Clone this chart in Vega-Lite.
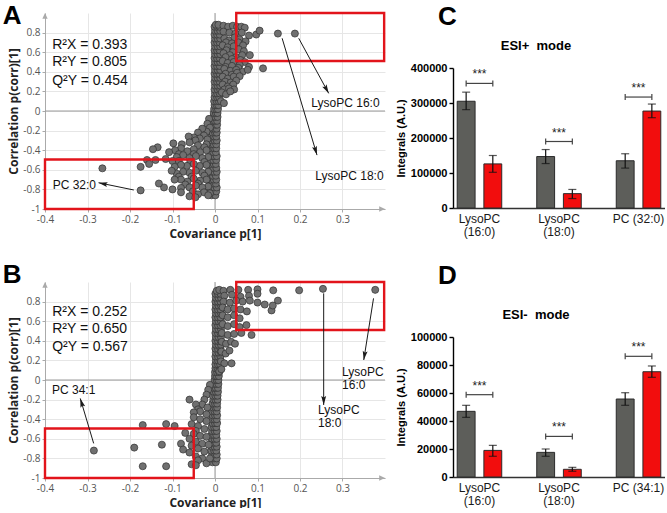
{
"$schema":"https://vega.github.io/schema/vega-lite/v6.json",
"background":"white",
"padding":{"left":2,"top":2,"right":0,"bottom":0},
"columns":2,
"spacing":{"row":22,"column":9},
"align":"each",
"config":{
 "view":{"stroke":null},
 "font":"Liberation Sans",
 "title":{"anchor":"start","fontSize":26,"fontWeight":"bold","font":"Liberation Sans","color":"#000","baseline":"alphabetic","offset":-17}
},
"datasets":{
"sA":[
{"x":-0.008,"y":-0.86},{"x":0.001,"y":-0.86},
{"x":-0.011,"y":-0.82},{"x":-0.003,"y":-0.82},{"x":0.003,"y":-0.82},
{"x":-0.009,"y":-0.78},{"x":-0.002,"y":-0.78},{"x":0.004,"y":-0.78},
{"x":-0.012,"y":-0.74},{"x":-0.004,"y":-0.74},{"x":0.002,"y":-0.74},
{"x":-0.01,"y":-0.7},{"x":-0.003,"y":-0.7},{"x":0.003,"y":-0.7},
{"x":-0.011,"y":-0.66},{"x":-0.005,"y":-0.66},{"x":0.002,"y":-0.66},
{"x":-0.009,"y":-0.62},{"x":-0.002,"y":-0.62},{"x":0.004,"y":-0.62},
{"x":-0.012,"y":-0.58},{"x":-0.004,"y":-0.58},{"x":0.003,"y":-0.58},
{"x":-0.01,"y":-0.54},{"x":-0.003,"y":-0.54},{"x":0.002,"y":-0.54},
{"x":-0.011,"y":-0.5},{"x":-0.004,"y":-0.5},{"x":0.003,"y":-0.5},
{"x":-0.009,"y":-0.46},{"x":-0.002,"y":-0.46},{"x":0.004,"y":-0.46},
{"x":-0.01,"y":-0.42},{"x":-0.004,"y":-0.42},{"x":0.002,"y":-0.42},
{"x":-0.008,"y":-0.38},{"x":-0.002,"y":-0.38},{"x":0.003,"y":-0.38},
{"x":-0.009,"y":-0.34},{"x":-0.003,"y":-0.34},{"x":0.003,"y":-0.34},
{"x":-0.007,"y":-0.3},{"x":-0.001,"y":-0.3},{"x":0.004,"y":-0.3},
{"x":-0.008,"y":-0.26},{"x":-0.002,"y":-0.26},{"x":0.003,"y":-0.26},
{"x":-0.006,"y":-0.22},{"x":0,"y":-0.22},{"x":0.004,"y":-0.22},
{"x":-0.007,"y":-0.18},{"x":-0.001,"y":-0.18},{"x":0.004,"y":-0.18},
{"x":-0.005,"y":-0.14},{"x":0.001,"y":-0.14},{"x":0.005,"y":-0.14},
{"x":-0.006,"y":-0.1},{"x":0,"y":-0.1},{"x":0.005,"y":-0.1},
{"x":-0.004,"y":-0.06},{"x":0.001,"y":-0.06},{"x":0.006,"y":-0.06},
{"x":-0.003,"y":-0.02},{"x":0.002,"y":-0.02},{"x":0.006,"y":-0.02},
{"x":-0.002,"y":0.02},{"x":0.003,"y":0.02},{"x":0.007,"y":0.02},
{"x":-0.001,"y":0.06},{"x":0.004,"y":0.06},{"x":0.008,"y":0.06},
{"x":-0.002,"y":0.1},{"x":0.004,"y":0.1},{"x":0.009,"y":0.1},
{"x":-0.001,"y":0.14},{"x":0.005,"y":0.14},{"x":0.01,"y":0.14},
{"x":0,"y":0.18},{"x":0.005,"y":0.18},{"x":0.011,"y":0.18},
{"x":-0.001,"y":0.22},{"x":0.006,"y":0.22},{"x":0.012,"y":0.22},
{"x":0,"y":0.26},{"x":0.006,"y":0.26},{"x":0.012,"y":0.26},
{"x":-0.001,"y":0.3},{"x":0.005,"y":0.3},{"x":0.011,"y":0.3},
{"x":0,"y":0.34},{"x":0.006,"y":0.34},{"x":0.012,"y":0.34},
{"x":-0.001,"y":0.38},{"x":0.005,"y":0.38},{"x":0.011,"y":0.38},
{"x":0,"y":0.42},{"x":0.006,"y":0.42},{"x":0.012,"y":0.42},
{"x":-0.001,"y":0.46},{"x":0.005,"y":0.46},{"x":0.011,"y":0.46},
{"x":0,"y":0.5},{"x":0.006,"y":0.5},{"x":0.012,"y":0.5},
{"x":-0.001,"y":0.54},{"x":0.005,"y":0.54},{"x":0.011,"y":0.54},
{"x":0,"y":0.58},{"x":0.006,"y":0.58},{"x":0.012,"y":0.58},
{"x":-0.001,"y":0.62},{"x":0.005,"y":0.62},{"x":0.011,"y":0.62},
{"x":0,"y":0.66},{"x":0.006,"y":0.66},{"x":0.012,"y":0.66},
{"x":-0.001,"y":0.7},{"x":0.005,"y":0.7},{"x":0.011,"y":0.7},
{"x":0,"y":0.74},{"x":0.006,"y":0.74},{"x":0.012,"y":0.74},
{"x":-0.001,"y":0.78},{"x":0.005,"y":0.78},{"x":0.011,"y":0.78},
{"x":0,"y":0.82},{"x":0.006,"y":0.82},{"x":0.012,"y":0.82},
{"x":-0.001,"y":0.86},{"x":0.005,"y":0.86},{"x":0.011,"y":0.86},
{"x":0.002,"y":0.88},{"x":0.008,"y":0.88},
{"x":0.02,"y":0.87},{"x":0.031,"y":0.86},{"x":0.042,"y":0.87},{"x":0.052,"y":0.86},{"x":0.062,"y":0.86},{"x":0.07,"y":0.85},
{"x":0.02,"y":0.81},{"x":0.034,"y":0.8},{"x":0.048,"y":0.79},{"x":0.063,"y":0.8},{"x":0.08,"y":0.77},{"x":0.097,"y":0.78},{"x":0.105,"y":0.82},{"x":0.148,"y":0.79},{"x":0.188,"y":0.79},
{"x":0.022,"y":0.74},{"x":0.033,"y":0.72},{"x":0.046,"y":0.75},{"x":0.058,"y":0.73},{"x":0.072,"y":0.71},
{"x":0.026,"y":0.7},{"x":0.04,"y":0.69},{"x":0.055,"y":0.7},{"x":0.066,"y":0.67},
{"x":0.018,"y":0.67},{"x":0.03,"y":0.65},{"x":0.044,"y":0.66},{"x":0.056,"y":0.63},{"x":0.068,"y":0.61},
{"x":0.027,"y":0.62},{"x":0.042,"y":0.6},
{"x":0.02,"y":0.59},{"x":0.035,"y":0.57},{"x":0.05,"y":0.55},{"x":0.064,"y":0.57},{"x":0.082,"y":0.57},
{"x":0.025,"y":0.55},{"x":0.04,"y":0.53},{"x":0.06,"y":0.52},{"x":0.07,"y":0.5},
{"x":0.018,"y":0.51},{"x":0.03,"y":0.49},{"x":0.044,"y":0.5},{"x":0.058,"y":0.47},{"x":0.08,"y":0.45},{"x":0.113,"y":0.435},
{"x":0.025,"y":0.45},{"x":0.04,"y":0.46},{"x":0.055,"y":0.44},
{"x":0.022,"y":0.43},{"x":0.036,"y":0.41},{"x":0.05,"y":0.42},{"x":0.065,"y":0.4},{"x":0.077,"y":0.42},
{"x":0.025,"y":0.38},{"x":0.04,"y":0.37},{"x":0.052,"y":0.39},
{"x":0.018,"y":0.35},{"x":0.03,"y":0.33},{"x":0.044,"y":0.35},{"x":0.058,"y":0.355},
{"x":0.024,"y":0.3},{"x":0.037,"y":0.29},{"x":0.05,"y":0.31},
{"x":0.018,"y":0.27},{"x":0.03,"y":0.25},{"x":0.043,"y":0.27},
{"x":0.022,"y":0.22},{"x":0.033,"y":0.23},{"x":0.045,"y":0.22},
{"x":0.016,"y":0.19},{"x":0.026,"y":0.17},{"x":0.036,"y":0.2},
{"x":0.014,"y":0.1},{"x":0.021,"y":0.08},
{"x":-0.014,"y":-0.08},{"x":-0.018,"y":-0.13},{"x":-0.012,"y":-0.17},
{"x":-0.02,"y":-0.21},{"x":-0.03,"y":-0.18},{"x":-0.04,"y":-0.22},{"x":-0.026,"y":-0.25},
{"x":-0.036,"y":-0.28},{"x":-0.05,"y":-0.27},{"x":-0.062,"y":-0.26},{"x":-0.046,"y":-0.3},{"x":-0.018,"y":-0.29},
{"x":-0.02,"y":-0.34},{"x":-0.04,"y":-0.35},{"x":-0.06,"y":-0.32},{"x":-0.078,"y":-0.34},{"x":-0.098,"y":-0.33},{"x":-0.135,"y":-0.37},{"x":-0.146,"y":-0.39},
{"x":-0.025,"y":-0.37},
{"x":-0.02,"y":-0.4},{"x":-0.035,"y":-0.42},{"x":-0.05,"y":-0.39},{"x":-0.065,"y":-0.41},{"x":-0.08,"y":-0.38},{"x":-0.094,"y":-0.4},{"x":-0.108,"y":-0.42},
{"x":-0.05,"y":-0.44},{"x":-0.085,"y":-0.44},
{"x":-0.016,"y":-0.47},{"x":-0.03,"y":-0.48},{"x":-0.045,"y":-0.46},{"x":-0.06,"y":-0.48},{"x":-0.075,"y":-0.45},{"x":-0.09,"y":-0.47},{"x":-0.1,"y":-0.51},{"x":-0.116,"y":-0.49},{"x":-0.14,"y":-0.5},{"x":-0.16,"y":-0.5},
{"x":-0.025,"y":-0.52},{"x":-0.058,"y":-0.52},{"x":-0.085,"y":-0.51},
{"x":-0.02,"y":-0.55},{"x":-0.036,"y":-0.56},{"x":-0.05,"y":-0.54},{"x":-0.066,"y":-0.56},{"x":-0.08,"y":-0.55},{"x":-0.095,"y":-0.57},{"x":-0.155,"y":-0.54},{"x":-0.175,"y":-0.57},{"x":-0.265,"y":-0.585},
{"x":-0.016,"y":-0.62},{"x":-0.03,"y":-0.63},{"x":-0.045,"y":-0.61},{"x":-0.06,"y":-0.63},{"x":-0.075,"y":-0.62},{"x":-0.09,"y":-0.64},{"x":-0.102,"y":-0.61},
{"x":-0.025,"y":-0.66},{"x":-0.055,"y":-0.67},{"x":-0.085,"y":-0.67},
{"x":-0.02,"y":-0.7},{"x":-0.035,"y":-0.71},{"x":-0.05,"y":-0.69},{"x":-0.065,"y":-0.72},{"x":-0.08,"y":-0.7},{"x":-0.095,"y":-0.7},
{"x":-0.04,"y":-0.74},{"x":-0.07,"y":-0.75},
{"x":-0.016,"y":-0.77},{"x":-0.03,"y":-0.78},{"x":-0.045,"y":-0.76},{"x":-0.06,"y":-0.78},{"x":-0.08,"y":-0.785},{"x":-0.1,"y":-0.8},{"x":-0.12,"y":-0.78},{"x":-0.132,"y":-0.74},{"x":-0.175,"y":-0.81},
{"x":-0.052,"y":-0.82},{"x":-0.08,"y":-0.83},
{"x":-0.012,"y":-0.84},{"x":-0.026,"y":-0.83},{"x":-0.04,"y":-0.85},{"x":-0.06,"y":-0.87},{"x":-0.046,"y":-0.88},{"x":-0.016,"y":-0.86}
],
"sB":[
{"x":-0.006,"y":-0.84},{"x":0.002,"y":-0.84},
{"x":-0.008,"y":-0.8},{"x":-0.002,"y":-0.8},{"x":0.004,"y":-0.8},
{"x":-0.007,"y":-0.76},{"x":-0.001,"y":-0.76},{"x":0.004,"y":-0.76},
{"x":-0.009,"y":-0.72},{"x":-0.002,"y":-0.72},{"x":0.003,"y":-0.72},
{"x":-0.007,"y":-0.68},{"x":-0.001,"y":-0.68},{"x":0.004,"y":-0.68},
{"x":-0.008,"y":-0.64},{"x":-0.002,"y":-0.64},{"x":0.003,"y":-0.64},
{"x":-0.007,"y":-0.6},{"x":-0.001,"y":-0.6},{"x":0.004,"y":-0.6},
{"x":-0.008,"y":-0.56},{"x":-0.002,"y":-0.56},{"x":0.003,"y":-0.56},
{"x":-0.007,"y":-0.52},{"x":-0.001,"y":-0.52},{"x":0.004,"y":-0.52},
{"x":-0.008,"y":-0.48},{"x":-0.002,"y":-0.48},{"x":0.003,"y":-0.48},
{"x":-0.006,"y":-0.44},{"x":0,"y":-0.44},{"x":0.005,"y":-0.44},
{"x":-0.007,"y":-0.4},{"x":-0.001,"y":-0.4},{"x":0.004,"y":-0.4},
{"x":-0.006,"y":-0.36},{"x":0,"y":-0.36},{"x":0.005,"y":-0.36},
{"x":-0.007,"y":-0.32},{"x":-0.001,"y":-0.32},{"x":0.004,"y":-0.32},
{"x":-0.005,"y":-0.28},{"x":0.001,"y":-0.28},{"x":0.005,"y":-0.28},
{"x":-0.006,"y":-0.24},{"x":0,"y":-0.24},{"x":0.005,"y":-0.24},
{"x":-0.004,"y":-0.2},{"x":0.001,"y":-0.2},{"x":0.006,"y":-0.2},
{"x":-0.005,"y":-0.16},{"x":0.001,"y":-0.16},{"x":0.006,"y":-0.16},
{"x":-0.003,"y":-0.12},{"x":0.002,"y":-0.12},{"x":0.007,"y":-0.12},
{"x":-0.003,"y":-0.08},{"x":0.002,"y":-0.08},{"x":0.007,"y":-0.08},
{"x":-0.002,"y":-0.04},{"x":0.003,"y":-0.04},{"x":0.008,"y":-0.04},
{"x":-0.001,"y":0},{"x":0.004,"y":0},{"x":0.008,"y":0},
{"x":0,"y":0.04},{"x":0.004,"y":0.04},{"x":0.009,"y":0.04},
{"x":0,"y":0.08},{"x":0.005,"y":0.08},{"x":0.01,"y":0.08},
{"x":0.001,"y":0.12},{"x":0.006,"y":0.12},{"x":0.011,"y":0.12},
{"x":0.001,"y":0.16},{"x":0.007,"y":0.16},{"x":0.012,"y":0.16},
{"x":0.002,"y":0.2},{"x":0.007,"y":0.2},{"x":0.013,"y":0.2},
{"x":0.001,"y":0.24},{"x":0.007,"y":0.24},{"x":0.013,"y":0.24},
{"x":0.002,"y":0.28},{"x":0.008,"y":0.28},{"x":0.014,"y":0.28},
{"x":0.001,"y":0.32},{"x":0.007,"y":0.32},{"x":0.013,"y":0.32},
{"x":0.002,"y":0.36},{"x":0.008,"y":0.36},{"x":0.014,"y":0.36},
{"x":0.001,"y":0.4},{"x":0.007,"y":0.4},{"x":0.013,"y":0.4},
{"x":0.002,"y":0.44},{"x":0.008,"y":0.44},{"x":0.014,"y":0.44},
{"x":0.001,"y":0.48},{"x":0.007,"y":0.48},{"x":0.013,"y":0.48},
{"x":0.002,"y":0.52},{"x":0.008,"y":0.52},{"x":0.014,"y":0.52},
{"x":0.001,"y":0.56},{"x":0.007,"y":0.56},{"x":0.013,"y":0.56},
{"x":0.002,"y":0.6},{"x":0.008,"y":0.6},{"x":0.014,"y":0.6},
{"x":0.001,"y":0.64},{"x":0.007,"y":0.64},{"x":0.013,"y":0.64},
{"x":0.002,"y":0.68},{"x":0.008,"y":0.68},{"x":0.014,"y":0.68},
{"x":0.001,"y":0.72},{"x":0.007,"y":0.72},{"x":0.013,"y":0.72},
{"x":0.002,"y":0.76},{"x":0.008,"y":0.76},{"x":0.014,"y":0.76},
{"x":0.001,"y":0.8},{"x":0.007,"y":0.8},{"x":0.013,"y":0.8},
{"x":0.002,"y":0.84},{"x":0.008,"y":0.84},{"x":0.014,"y":0.84},
{"x":0.001,"y":0.88},{"x":0.007,"y":0.88},{"x":0.013,"y":0.88},
{"x":0.004,"y":0.91},{"x":0.01,"y":0.92},
{"x":0.02,"y":0.91},{"x":0.036,"y":0.92},{"x":0.055,"y":0.92},{"x":0.078,"y":0.92},{"x":0.1,"y":0.925},{"x":0.137,"y":0.915},{"x":0.198,"y":0.915},{"x":0.254,"y":0.93},{"x":0.377,"y":0.92},
{"x":0.022,"y":0.86},{"x":0.04,"y":0.87},{"x":0.06,"y":0.85},{"x":0.08,"y":0.86},{"x":0.1,"y":0.88},
{"x":0.02,"y":0.8},{"x":0.035,"y":0.79},{"x":0.05,"y":0.81},{"x":0.065,"y":0.8},{"x":0.082,"y":0.81},{"x":0.1,"y":0.79},{"x":0.117,"y":0.77},{"x":0.133,"y":0.71},{"x":0.148,"y":0.81},{"x":0.136,"y":0.76},
{"x":0.018,"y":0.74},{"x":0.03,"y":0.72},{"x":0.045,"y":0.73},{"x":0.06,"y":0.72},{"x":0.075,"y":0.7},
{"x":0.018,"y":0.66},{"x":0.03,"y":0.64},{"x":0.045,"y":0.66},{"x":0.058,"y":0.63},
{"x":0.018,"y":0.57},{"x":0.03,"y":0.55},{"x":0.045,"y":0.57},{"x":0.058,"y":0.54},{"x":0.074,"y":0.56},
{"x":0.016,"y":0.48},{"x":0.03,"y":0.46},{"x":0.045,"y":0.47},{"x":0.062,"y":0.48},{"x":0.086,"y":0.46},
{"x":0.016,"y":0.39},{"x":0.026,"y":0.37},{"x":0.038,"y":0.39},{"x":0.047,"y":0.37},
{"x":0.015,"y":0.29},{"x":0.025,"y":0.27},{"x":0.034,"y":0.3},
{"x":0.014,"y":0.19},{"x":0.022,"y":0.17},{"x":0.039,"y":0.17},
{"x":0.01,"y":0.09},{"x":0.015,"y":0.11},
{"x":-0.012,"y":-0.05},{"x":-0.016,"y":-0.1},{"x":-0.02,"y":-0.15},{"x":-0.025,"y":-0.2},{"x":-0.06,"y":-0.2},{"x":-0.03,"y":-0.25},{"x":-0.018,"y":-0.28},{"x":-0.045,"y":-0.25},{"x":-0.04,"y":-0.3},
{"x":-0.035,"y":-0.32},{"x":-0.02,"y":-0.35},{"x":-0.05,"y":-0.33},{"x":-0.05,"y":-0.38},{"x":-0.035,"y":-0.4},{"x":-0.02,"y":-0.42},
{"x":-0.055,"y":-0.45},{"x":-0.04,"y":-0.47},{"x":-0.025,"y":-0.5},{"x":-0.045,"y":-0.52},{"x":-0.095,"y":-0.47},{"x":-0.115,"y":-0.45},{"x":-0.17,"y":-0.46},
{"x":-0.07,"y":-0.54},{"x":-0.05,"y":-0.55},{"x":-0.035,"y":-0.57},{"x":-0.02,"y":-0.58},{"x":-0.06,"y":-0.6},
{"x":-0.045,"y":-0.63},{"x":-0.03,"y":-0.65},{"x":-0.015,"y":-0.66},{"x":-0.055,"y":-0.67},{"x":-0.08,"y":-0.65},{"x":-0.125,"y":-0.66},{"x":-0.19,"y":-0.69},{"x":-0.285,"y":-0.72},{"x":-0.075,"y":-0.71},
{"x":-0.04,"y":-0.7},{"x":-0.025,"y":-0.73},{"x":-0.06,"y":-0.74},{"x":-0.045,"y":-0.78},{"x":-0.03,"y":-0.8},{"x":-0.04,"y":-0.82},{"x":-0.055,"y":-0.86},{"x":-0.045,"y":-0.87},{"x":-0.02,"y":-0.85},{"x":-0.012,"y":-0.8},
{"x":-0.17,"y":-0.88},{"x":-0.115,"y":-0.88}
],
"boxes":[{"x":0.05,"x2":0.398,"y":0.51,"y2":1},{"x":-0.4,"x2":-0.05,"y":-1,"y2":-0.495}],
"zeros":[{"x":-0.4,"y":0,"x2":0.4,"y2":0},{"x":0,"y":-1,"x2":0,"y2":1}],
"arrA":[{"id":"a1","x":0.2675,"y":0.18,"x2":0.197,"y2":0.742},{"id":"a2","x":0.24,"y":-0.45,"x2":0.158,"y2":0.742},{"id":"a3","x":-0.274,"y":-0.732,"x2":-0.191,"y2":-0.806}],
"arrB":[{"id":"b1","x":0.35,"y":0.204,"x2":0.373,"y2":0.833},{"id":"b2","x":0.2557,"y":-0.255,"x2":0.2557,"y2":0.884},{"id":"b3","x":-0.317,"y":-0.188,"x2":-0.2855,"y2":-0.647}],
"pos":[
{"g":"LysoPC (16:0)","c":"Control","v":305000,"lo":281000,"hi":331000},
{"g":"LysoPC (16:0)","c":"Patient","v":126000,"lo":102000,"hi":150000},
{"g":"LysoPC (18:0)","c":"Control","v":147000,"lo":127000,"hi":167000},
{"g":"LysoPC (18:0)","c":"Patient","v":41000,"lo":27000,"hi":53000},
{"g":"PC (32:0)","c":"Control","v":135000,"lo":114000,"hi":155000},
{"g":"PC (32:0)","c":"Patient","v":277000,"lo":258000,"hi":297000}
],
"neg":[
{"g":"LysoPC (16:0)","c":"Control","v":46900,"lo":42600,"hi":51200},
{"g":"LysoPC (16:0)","c":"Patient","v":19000,"lo":14800,"hi":22600},
{"g":"LysoPC (18:0)","c":"Control","v":17600,"lo":14800,"hi":20000},
{"g":"LysoPC (18:0)","c":"Patient","v":5500,"lo":4100,"hi":6900},
{"g":"PC (34:1)","c":"Control","v":55700,"lo":51200,"hi":60200},
{"g":"PC (34:1)","c":"Patient","v":75200,"lo":71200,"hi":79300}
],
"brPos":[
{"g":"LysoPC (16:0)","c":"Control","v":356000,"sig":"***"},{"g":"LysoPC (16:0)","c":"Patient","v":356000,"sig":"***"},
{"g":"LysoPC (18:0)","c":"Control","v":190000,"sig":"***"},{"g":"LysoPC (18:0)","c":"Patient","v":190000,"sig":"***"},
{"g":"PC (32:0)","c":"Control","v":317000,"sig":"***"},{"g":"PC (32:0)","c":"Patient","v":317000,"sig":"***"}
],
"brNeg":[
{"g":"LysoPC (16:0)","c":"Control","v":58800,"sig":"***"},{"g":"LysoPC (16:0)","c":"Patient","v":58800,"sig":"***"},
{"g":"LysoPC (18:0)","c":"Control","v":29000,"sig":"***"},{"g":"LysoPC (18:0)","c":"Patient","v":29000,"sig":"***"},
{"g":"PC (34:1)","c":"Control","v":86200,"sig":"***"},{"g":"PC (34:1)","c":"Patient","v":86200,"sig":"***"}
]
},
"concat":[
{
 "width":340,"height":196,
 "title":{"text":"A","frame":"bounds","dx":-5},
 "encoding":{
  "x":{"field":"x","type":"quantitative","title":"Covariance p[1]","scale":{"domain":[-0.4,0.4],"nice":false,"zero":false},
   "axis":{"values":[-0.4,-0.3,-0.2,-0.1,0,0.1,0.2,0.3],"labelExpr":"datum.value + ''","labelFlush":false,"labelFont":"Open Sans","labelFontSize":10,"labelColor":"#555","tickColor":"#aaa","tickSize":3,"domainColor":"#aaa","gridColor":"#e6e6e6","titleFont":"Open Sans","titleFontSize":12,"titleFontWeight":"bold","titleColor":"#222","titlePadding":4,"labelPadding":2}},
  "y":{"field":"y","type":"quantitative","title":"Correlation p(corr)[1]","scale":{"domain":[-1,1],"nice":false,"zero":false},
   "axis":{"values":[-1,-0.8,-0.6,-0.4,-0.2,0,0.2,0.4,0.6,0.8],"labelExpr":"datum.value + ''","labelFlush":false,"labelFont":"Open Sans","labelFontSize":10,"labelColor":"#555","tickColor":"#aaa","tickSize":3,"domainColor":"#aaa","gridColor":"#e6e6e6","titleFont":"Open Sans","titleFontSize":12,"titleFontWeight":"bold","titleColor":"#222","titlePadding":2,"labelPadding":2}}
 },
 "layer":[
  {"data":{"name":"zeros"},"mark":{"type":"rule","color":"#9a9a9a","strokeWidth":1},"encoding":{"x2":{"field":"x2"},"y2":{"field":"y2"}}},
  {"data":{"name":"sA"},"mark":{"type":"circle","size":50,"fill":"#707070","stroke":"#303030","strokeWidth":0.7,"opacity":1}},
  {"data":{"name":"boxes"},"mark":{"type":"rect","fillOpacity":0,"stroke":"#e2141b","strokeWidth":2.4},"encoding":{"x2":{"field":"x2"},"y2":{"field":"y2"}}},
  {"data":{"name":"arrA"},"mark":{"type":"rule","color":"#1a1a1a","strokeWidth":1},"encoding":{"x2":{"field":"x2"},"y2":{"field":"y2"}}},
  {"data":{"name":"arrA"},"transform":[{"filter":"datum.id=='a1'"}],"mark":{"type":"point","shape":"M0,0L0.6,2.2L0,1.8L-0.6,2.2Z","filled":true,"color":"#1a1a1a","size":67,"angle":151.4,"opacity":1}},
  {"data":{"name":"arrA"},"transform":[{"filter":"datum.id=='a2'"}],"mark":{"type":"point","shape":"M0,0L0.6,2.2L0,1.8L-0.6,2.2Z","filled":true,"color":"#1a1a1a","size":67,"angle":163.4,"opacity":1}},
  {"data":{"name":"arrA"},"transform":[{"filter":"datum.id=='a3'"}],"mark":{"type":"point","shape":"M0,0L0.6,2.2L0,1.8L-0.6,2.2Z","filled":true,"color":"#1a1a1a","size":67,"angle":281.6,"opacity":1}},
  {"data":{"values":[{"x":-0.4,"y":1}]},"mark":{"type":"point","shape":"M0,0L1,2.2L-1,2.2Z","filled":true,"color":"#aaa","size":28,"angle":0,"opacity":1}},
  {"data":{"values":[{"x":0.4,"y":-1}]},"mark":{"type":"point","shape":"M0,0L1,2.2L-1,2.2Z","filled":true,"color":"#aaa","size":28,"angle":90,"opacity":1}},
  {"data":{"values":[{"t":"R²X = 0.393","x":-0.383,"y":0.673},{"t":"R²Y = 0.805","x":-0.383,"y":0.497},{"t":"Q²Y = 0.454","x":-0.383,"y":0.306}]},"mark":{"type":"text","align":"left","baseline":"middle","fontSize":14,"color":"#111"},"encoding":{"text":{"field":"t"}}},
  {"data":{"values":[{"t":"LysoPC 16:0","x":0.2266,"y":0.079},{"t":"LysoPC 18:0","x":0.236,"y":-0.66},{"t":"PC 32:0","x":-0.382,"y":-0.755}]},"mark":{"type":"text","align":"left","baseline":"middle","fontSize":12,"color":"#111"},"encoding":{"text":{"field":"t"}}}
 ]
},
{
 "width":212,"height":195,
 "title":{"text":"C","frame":"group","dx":-15},
 "encoding":{
  "x":{"field":"g","type":"nominal","sort":null,"title":null,
   "scale":{"domain":["LysoPC (16:0)","LysoPC (18:0)","PC (32:0)"],"paddingInner":0.44,"paddingOuter":0.053},
   "axis":{"labelAngle":0,"ticks":false,"domainColor":"#333","domainWidth":1.6,"labelFontSize":12,"labelColor":"#1a1a1a","labelPadding":5,"labelLineHeight":13.5,"labelExpr":"indexof(datum.label,'Lyso')==0 ? split(datum.label,' ') : datum.label"}},
  "y":{"field":"v","type":"quantitative","title":"Integrals (A.U.)",
   "scale":{"domain":[0,400000],"range":[195,55],"nice":false},
   "axis":{"values":[0,100000,200000,300000,400000],"format":"d","grid":false,"labelFontWeight":"bold","labelFontSize":11,"labelColor":"#000","tickColor":"#000","tickSize":4,"tickWidth":1.4,"domainColor":"#000","domainWidth":1.4,"labelPadding":2,"titleFontSize":11,"titleFontWeight":"bold","titleColor":"#000","titlePadding":4,"labelFlush":false}}
 },
 "layer":[
  {"data":{"name":"pos"},"mark":{"type":"bar","stroke":"#2b2b2b","strokeWidth":1},
   "encoding":{"xOffset":{"field":"c","type":"nominal","sort":null,"scale":{"domain":["Control","Patient"],"paddingInner":0.33,"paddingOuter":0}},
    "color":{"field":"c","type":"nominal","scale":{"domain":["Control","Patient"],"range":["#5d5e5a","#f20d0d"]},"legend":null}}},
  {"data":{"name":"pos"},"mark":{"type":"rule","color":"#111","strokeWidth":1.2},
   "encoding":{"xOffset":{"field":"c","type":"nominal","sort":null},"y":{"field":"lo","type":"quantitative","title":"Integrals (A.U.)"},"y2":{"field":"hi"}}},
  {"data":{"name":"pos"},"mark":{"type":"tick","color":"#111","size":8,"thickness":1.2},
   "encoding":{"xOffset":{"field":"c","type":"nominal","sort":null},"y":{"field":"lo","type":"quantitative","title":"Integrals (A.U.)"}}},
  {"data":{"name":"pos"},"mark":{"type":"tick","color":"#111","size":8,"thickness":1.2},
   "encoding":{"xOffset":{"field":"c","type":"nominal","sort":null},"y":{"field":"hi","type":"quantitative","title":"Integrals (A.U.)"}}},
  {"data":{"name":"brPos"},"mark":{"type":"line","color":"#444","strokeWidth":1.2},
   "encoding":{"xOffset":{"field":"c","type":"nominal","sort":null},"detail":{"field":"g"}}},
  {"data":{"name":"brPos"},"mark":{"type":"point","shape":"stroke","angle":90,"size":36,"color":"#444","strokeWidth":1.2,"opacity":1},
   "encoding":{"xOffset":{"field":"c","type":"nominal","sort":null}}},
  {"data":{"name":"brPos"},"transform":[{"filter":"datum.c=='Control'"}],"mark":{"type":"text","fontSize":12,"dy":-9,"color":"#222"},"encoding":{"text":{"field":"sig"}}},
  {"data":{"values":[{"t":"ESI+\u00a0 mode","g":"LysoPC (18:0)","v":462000}]},"mark":{"type":"text","fontSize":13,"fontWeight":"bold","dx":-23,"color":"#000"},"encoding":{"text":{"field":"t"}}}
 ]
},
{
 "width":340,"height":196,
 "title":{"text":"B","frame":"bounds","dx":-5,"offset":-7},
 "encoding":{
  "x":{"field":"x","type":"quantitative","title":"Covariance p[1]","scale":{"domain":[-0.4,0.4],"nice":false,"zero":false},
   "axis":{"values":[-0.4,-0.3,-0.2,-0.1,0,0.1,0.2,0.3],"labelExpr":"datum.value + ''","labelFlush":false,"labelFont":"Open Sans","labelFontSize":10,"labelColor":"#555","tickColor":"#aaa","tickSize":3,"domainColor":"#aaa","gridColor":"#e6e6e6","titleFont":"Open Sans","titleFontSize":12,"titleFontWeight":"bold","titleColor":"#222","titlePadding":4,"labelPadding":2}},
  "y":{"field":"y","type":"quantitative","title":"Correlation p(corr)[1]","scale":{"domain":[-1,1],"nice":false,"zero":false},
   "axis":{"values":[-1,-0.8,-0.6,-0.4,-0.2,0,0.2,0.4,0.6,0.8],"labelExpr":"datum.value + ''","labelFlush":false,"labelFont":"Open Sans","labelFontSize":10,"labelColor":"#555","tickColor":"#aaa","tickSize":3,"domainColor":"#aaa","gridColor":"#e6e6e6","titleFont":"Open Sans","titleFontSize":12,"titleFontWeight":"bold","titleColor":"#222","titlePadding":2,"labelPadding":2}}
 },
 "layer":[
  {"data":{"name":"zeros"},"mark":{"type":"rule","color":"#9a9a9a","strokeWidth":1},"encoding":{"x2":{"field":"x2"},"y2":{"field":"y2"}}},
  {"data":{"name":"sB"},"mark":{"type":"circle","size":50,"fill":"#707070","stroke":"#303030","strokeWidth":0.7,"opacity":1}},
  {"data":{"name":"boxes"},"mark":{"type":"rect","fillOpacity":0,"stroke":"#e2141b","strokeWidth":2.4},"encoding":{"x2":{"field":"x2"},"y2":{"field":"y2"}}},
  {"data":{"name":"arrB"},"mark":{"type":"rule","color":"#1a1a1a","strokeWidth":1},"encoding":{"x2":{"field":"x2"},"y2":{"field":"y2"}}},
  {"data":{"name":"arrB"},"transform":[{"filter":"datum.id=='b1'"}],"mark":{"type":"point","shape":"M0,0L0.6,2.2L0,1.8L-0.6,2.2Z","filled":true,"color":"#1a1a1a","size":67,"angle":189,"opacity":1}},
  {"data":{"name":"arrB"},"transform":[{"filter":"datum.id=='b2'"}],"mark":{"type":"point","shape":"M0,0L0.6,2.2L0,1.8L-0.6,2.2Z","filled":true,"color":"#1a1a1a","size":67,"angle":180,"opacity":1}},
  {"data":{"name":"arrB"},"transform":[{"filter":"datum.id=='b3'"}],"mark":{"type":"point","shape":"M0,0L0.6,2.2L0,1.8L-0.6,2.2Z","filled":true,"color":"#1a1a1a","size":67,"angle":343.4,"opacity":1}},
  {"data":{"values":[{"x":-0.4,"y":1}]},"mark":{"type":"point","shape":"M0,0L1,2.2L-1,2.2Z","filled":true,"color":"#aaa","size":28,"angle":0,"opacity":1}},
  {"data":{"values":[{"x":0.4,"y":-1}]},"mark":{"type":"point","shape":"M0,0L1,2.2L-1,2.2Z","filled":true,"color":"#aaa","size":28,"angle":90,"opacity":1}},
  {"data":{"values":[{"t":"R²X = 0.252","x":-0.383,"y":0.697},{"t":"R²Y = 0.650","x":-0.383,"y":0.516},{"t":"Q²Y = 0.567","x":-0.383,"y":0.34}]},"mark":{"type":"text","align":"left","baseline":"middle","fontSize":14,"color":"#111"},"encoding":{"text":{"field":"t"}}},
  {"data":{"values":[{"t":"LysoPC","x":0.299,"y":0.085},{"t":"16:0","x":0.299,"y":-0.051},{"t":"LysoPC","x":0.2424,"y":-0.306},{"t":"18:0","x":0.2424,"y":-0.443},{"t":"PC 34:1","x":-0.3835,"y":-0.102}]},"mark":{"type":"text","align":"left","baseline":"middle","fontSize":12,"color":"#111"},"encoding":{"text":{"field":"t"}}}
 ]
},
{
 "width":212,"height":195,
 "title":{"text":"D","frame":"group","dx":-15,"offset":-7},
 "encoding":{
  "x":{"field":"g","type":"nominal","sort":null,"title":null,
   "scale":{"domain":["LysoPC (16:0)","LysoPC (18:0)","PC (34:1)"],"paddingInner":0.44,"paddingOuter":0.053},
   "axis":{"labelAngle":0,"ticks":false,"domainColor":"#333","domainWidth":1.6,"labelFontSize":12,"labelColor":"#1a1a1a","labelPadding":5,"labelLineHeight":13.5,"labelExpr":"indexof(datum.label,'Lyso')==0 ? split(datum.label,' ') : datum.label"}},
  "y":{"field":"v","type":"quantitative","title":"Integrals (A.U.)",
   "scale":{"domain":[0,100000],"range":[195,55],"nice":false},
   "axis":{"values":[0,20000,40000,60000,80000,100000],"format":"d","grid":false,"labelFontWeight":"bold","labelFontSize":11,"labelColor":"#000","tickColor":"#000","tickSize":4,"tickWidth":1.4,"domainColor":"#000","domainWidth":1.4,"labelPadding":2,"titleFontSize":11,"titleFontWeight":"bold","titleColor":"#000","titlePadding":4,"labelFlush":false}}
 },
 "layer":[
  {"data":{"name":"neg"},"mark":{"type":"bar","stroke":"#2b2b2b","strokeWidth":1},
   "encoding":{"xOffset":{"field":"c","type":"nominal","sort":null,"scale":{"domain":["Control","Patient"],"paddingInner":0.33,"paddingOuter":0}},
    "color":{"field":"c","type":"nominal","scale":{"domain":["Control","Patient"],"range":["#5d5e5a","#f20d0d"]},"legend":null}}},
  {"data":{"name":"neg"},"mark":{"type":"rule","color":"#111","strokeWidth":1.2},
   "encoding":{"xOffset":{"field":"c","type":"nominal","sort":null},"y":{"field":"lo","type":"quantitative","title":"Integrals (A.U.)"},"y2":{"field":"hi"}}},
  {"data":{"name":"neg"},"mark":{"type":"tick","color":"#111","size":8,"thickness":1.2},
   "encoding":{"xOffset":{"field":"c","type":"nominal","sort":null},"y":{"field":"lo","type":"quantitative","title":"Integrals (A.U.)"}}},
  {"data":{"name":"neg"},"mark":{"type":"tick","color":"#111","size":8,"thickness":1.2},
   "encoding":{"xOffset":{"field":"c","type":"nominal","sort":null},"y":{"field":"hi","type":"quantitative","title":"Integrals (A.U.)"}}},
  {"data":{"name":"brNeg"},"mark":{"type":"line","color":"#444","strokeWidth":1.2},
   "encoding":{"xOffset":{"field":"c","type":"nominal","sort":null},"detail":{"field":"g"}}},
  {"data":{"name":"brNeg"},"mark":{"type":"point","shape":"stroke","angle":90,"size":36,"color":"#444","strokeWidth":1.2,"opacity":1},
   "encoding":{"xOffset":{"field":"c","type":"nominal","sort":null}}},
  {"data":{"name":"brNeg"},"transform":[{"filter":"datum.c=='Control'"}],"mark":{"type":"text","fontSize":12,"dy":-9,"color":"#222"},"encoding":{"text":{"field":"sig"}}},
  {"data":{"values":[{"t":"ESI-\u00a0 mode","g":"LysoPC (18:0)","v":115900}]},"mark":{"type":"text","fontSize":13,"fontWeight":"bold","dx":-23,"color":"#000"},"encoding":{"text":{"field":"t"}}}
 ]
}
]
}
